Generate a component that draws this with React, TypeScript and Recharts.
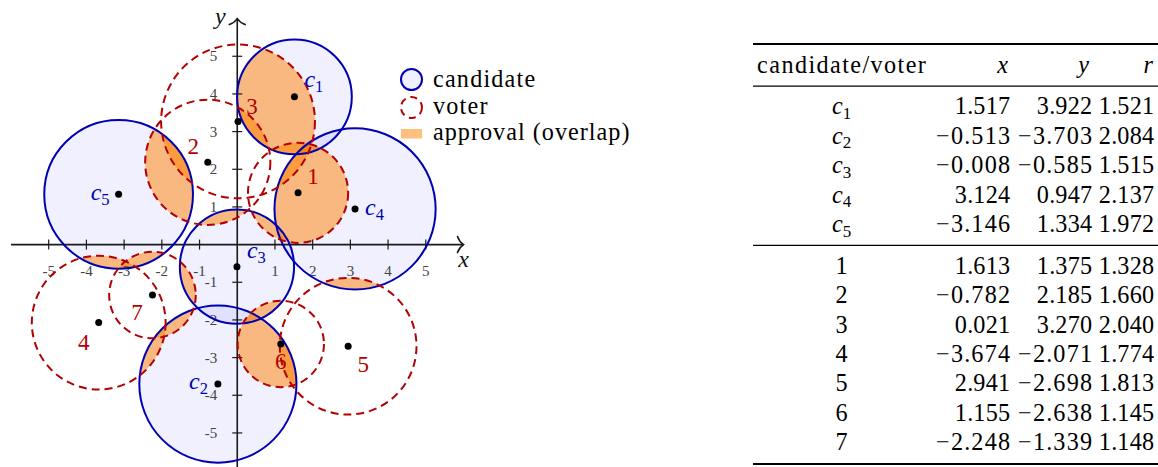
import React from 'react';
import { ScatterChart, Scatter, XAxis, YAxis } from 'recharts';

// ---------------- data ----------------
const candidateNames = ['c1', 'c2', 'c3', 'c4', 'c5'];
const candidateX = [1.517, -0.513, -0.008, 3.124, -3.146];
const candidateY = [3.922, -3.703, -0.585, 0.947, 1.334];
const candidateR = [1.521, 2.084, 1.515, 2.137, 1.972];

const voterNames = ['1', '2', '3', '4', '5', '6', '7'];
const voterX = [1.613, -0.782, 0.021, -3.674, 2.941, 1.155, -2.248];
const voterY = [1.375, 2.185, 3.27, -2.071, -2.698, -2.638, -1.339];
const voterR = [1.328, 1.66, 2.04, 1.774, 1.813, 1.145, 1.148];

const axisRange = [-6, 6];
const axisTicks = [-5, -4, -3, -2, -1, 1, 2, 3, 4, 5];
const legendLabels = ['candidate', 'voter', 'approval (overlap)'];
const tableHeader = ['candidate/voter', 'x', 'y', 'r'];

const candidates = candidateNames.map((name, i) => ({
  name, idx: i + 1, x: candidateX[i], y: candidateY[i], r: candidateR[i],
}));
const voters = voterNames.map((name, i) => ({
  name, x: voterX[i], y: voterY[i], r: voterR[i],
}));
const xAxisLine = [{ x: axisRange[0], y: 0 }, { x: axisRange[1], y: 0 }];
const yAxisLine = [{ x: 0, y: axisRange[0] }, { x: 0, y: axisRange[1] }];
const xTickPoints = axisTicks.map((v) => ({ x: v, y: 0, label: String(v) }));
const yTickPoints = axisTicks.map((v) => ({ x: 0, y: v, label: String(v) }));
const arrowPoints = [
  { x: axisRange[1], y: 0, dir: 'x' },
  { x: 0, y: axisRange[1], dir: 'y' },
];

// ---------------- styles ----------------
const FONT = '"Liberation Serif", "Times New Roman", serif';
const BLUE = '#0000b3';
const RED = '#b30000';
const ORANGE = '#ff8000';
const AXIS = '#1a1a1a';
const TICK_TEXT = '#444';

const SIZE = { w: 700, h: 480 };
const MARGIN = { top: 18.6, right: 236.5, bottom: 9.4, left: 11 };
const PX_PER_UNIT = (SIZE.w - MARGIN.left - MARGIN.right) / (axisRange[1] - axisRange[0]);

const candLabelPlacement: Record<string, { dx: number; dy: number; anchor: 'start' | 'end' }> = {
  c1: { dx: 10, dy: -16, anchor: 'start' },
  c2: { dx: -10, dy: -1, anchor: 'end' },
  c3: { dx: 10, dy: -15, anchor: 'start' },
  c4: { dx: 10, dy: 0, anchor: 'start' },
  c5: { dx: -9, dy: 0, anchor: 'end' },
};
const voterLabelPlacement: Record<string, { dx: number; dy: number }> = {
  '1': { dx: 15, dy: -17 },
  '2': { dx: -14.5, dy: -16 },
  '3': { dx: 14, dy: -15 },
  '4': { dx: -15, dy: 19 },
  '5': { dx: 15, dy: 18 },
  '6': { dx: 0, dy: 17.5 },
  '7': { dx: -15.5, dy: 16.5 },
};

// Computer-Modern-like advance widths (em) used to size text via textLength
const CM: Record<string, number> = {
  a: 0.5, c: 0.444, d: 0.556, e: 0.444, i: 0.278, l: 0.278, n: 0.556, o: 0.5,
  p: 0.556, r: 0.392, t: 0.389, v: 0.528, ' ': 0.333, '(': 0.389, ')': 0.389,
  '/': 0.5, '.': 0.278, '\u2212': 0.778,
};
const cmWidth = (s: string, size: number) =>
  s.split('').reduce((acc, ch) => acc + (CM[ch] ?? 0.5), 0) * size;

const fmt = (n: number) => (n < 0 ? '\u2212' : '') + Math.abs(n).toFixed(3);

// ---------------- shapes ----------------
const Empty = () => <g />;

function CandidateFill(props: any) {
  const { cx, cy, payload } = props;
  const r = payload.r * PX_PER_UNIT;
  return (
    <g>
      <circle cx={cx} cy={cy} r={r} fill="#0000ff" fillOpacity={0.06} stroke="none" />
      {voters.map((v) => (
        <circle
          key={v.name}
          cx={cx}
          cy={cy}
          r={r}
          fill={ORANGE}
          fillOpacity={0.5}
          stroke="none"
          clipPath={`url(#voter-clip-${v.name})`}
        />
      ))}
    </g>
  );
}

function VoterClip(props: any) {
  const { cx, cy, payload } = props;
  return (
    <defs>
      <clipPath id={`voter-clip-${payload.name}`}>
        <circle cx={cx} cy={cy} r={payload.r * PX_PER_UNIT} />
      </clipPath>
    </defs>
  );
}

function CandidateOutline(props: any) {
  const { cx, cy, payload } = props;
  return <circle cx={cx} cy={cy} r={payload.r * PX_PER_UNIT} fill="none" stroke={BLUE} strokeWidth={2} />;
}

function VoterOutline(props: any) {
  const { cx, cy, payload } = props;
  return (
    <circle
      cx={cx}
      cy={cy}
      r={payload.r * PX_PER_UNIT}
      fill="none"
      stroke={RED}
      strokeWidth={2}
      strokeDasharray="8 5"
    />
  );
}

function CandidateMark(props: any) {
  const { cx, cy, payload } = props;
  const p = candLabelPlacement[payload.name];
  return (
    <g>
      <circle cx={cx} cy={cy} r={3.5} fill="#000" />
      <text x={cx + p.dx} y={cy + p.dy + 6} textAnchor={p.anchor} fill={BLUE} fontFamily={FONT} fontSize={24}>
        <tspan fontStyle="italic">c</tspan>
        <tspan fontSize={16.5} dy={5}>{payload.idx}</tspan>
      </text>
    </g>
  );
}

function VoterMark(props: any) {
  const { cx, cy, payload } = props;
  const p = voterLabelPlacement[payload.name];
  return (
    <g>
      <circle cx={cx} cy={cy} r={3.5} fill="#000" />
      <text x={cx + p.dx} y={cy + p.dy + 8} textAnchor="middle" fill={RED} fontFamily={FONT} fontSize={23}>
        {payload.name}
      </text>
    </g>
  );
}

function XTick(props: any) {
  const { cx, cy, payload } = props;
  return (
    <g>
      <line x1={cx} x2={cx} y1={cy - 5} y2={cy + 5} stroke={AXIS} strokeWidth={1.2} />
      <text x={cx} y={cy + 31} textAnchor="middle" fill={TICK_TEXT} fontFamily={FONT} fontSize={15}>
        {payload.label}
      </text>
    </g>
  );
}

function YTick(props: any) {
  const { cx, cy, payload } = props;
  return (
    <g>
      <line x1={cx - 5} x2={cx + 5} y1={cy} y2={cy} stroke={AXIS} strokeWidth={1.2} />
      <text x={cx - 20} y={cy + 5} textAnchor="end" fill={TICK_TEXT} fontFamily={FONT} fontSize={15}>
        {payload.label}
      </text>
    </g>
  );
}

function Arrow(props: any) {
  const { cx, cy, payload } = props;
  const rot = payload.dir === 'x' ? 0 : -90;
  return (
    <g>
      <path
        d="M -6 -8 C -4.5 -3.5 -1.5 -1 0 0 C -1.5 1 -4.5 3.5 -6 8"
        transform={`translate(${cx},${cy}) rotate(${rot})`}
        fill="none"
        stroke={AXIS}
        strokeWidth={1.6}
        strokeLinecap="round"
      />
      {payload.dir === 'x' ? (
        <text x={cx} y={cy + 22} textAnchor="middle" fontFamily={FONT} fontStyle="italic" fontSize={24} fill="#111">
          x
        </text>
      ) : (
        <text x={cx - 17} y={cy + 5} textAnchor="middle" fontFamily={FONT} fontStyle="italic" fontSize={24} fill="#111">
          y
        </text>
      )}
    </g>
  );
}

// ---------------- table / legend overlay ----------------
const T_SIZE = 24.2;
const colRight = [0, 1010, 1092, 1154];
const headerRight = [0, 1008, 1089, 1153];
const col0Center = 841.5;
const headerBaseline = 73;
const ROW_STEP = 29.4;
const candBaseline = candidates.map((_, i) => 114.4 + i * ROW_STEP);
const voterBaseline = voters.map((_, i) => 273.7 + i * ROW_STEP);
const rules = [
  { y: 44, w: 1.9 },
  { y: 86.1, w: 1.2 },
  { y: 245.4, w: 1.2 },
  { y: 464, w: 1.9 },
];

function NumCell({ value, x, y }: { value: number; x: number; y: number }) {
  const s = fmt(value);
  return (
    <text x={x} y={y} textAnchor="end" textLength={cmWidth(s, T_SIZE)} lengthAdjust="spacing">
      {s}
    </text>
  );
}

function Overlay() {
  return (
    <svg
      width={1158}
      height={467}
      style={{ position: 'absolute', left: 0, top: 0, pointerEvents: 'none' }}
    >
      {/* legend */}
      <g fontFamily={FONT} fontSize={T_SIZE} fill="#000">
        <circle cx={411.5} cy={79.5} r={10.5} fill="#0000ff" fillOpacity={0.06} stroke={BLUE} strokeWidth={2} />
        <text x={433} y={86.5} textLength={cmWidth(legendLabels[0], T_SIZE)} lengthAdjust="spacing">
          {legendLabels[0]}
        </text>
        <circle cx={411.5} cy={107.5} r={10.5} fill="none" stroke={RED} strokeWidth={2} strokeDasharray="7 5" />
        <text x={433} y={114} textLength={cmWidth(legendLabels[1], T_SIZE)} lengthAdjust="spacing">
          {legendLabels[1]}
        </text>
        <rect x={401} y={129} width={21} height={9.5} fill={ORANGE} fillOpacity={0.5} />
        <text x={433} y={140} textLength={cmWidth(legendLabels[2], T_SIZE)} lengthAdjust="spacing">
          {legendLabels[2]}
        </text>
      </g>

      {/* table */}
      {rules.map((r, i) => (
        <line key={i} x1={753} x2={1158} y1={r.y} y2={r.y} stroke="#000" strokeWidth={r.w} />
      ))}
      <g fontFamily={FONT} fontSize={T_SIZE} fill="#000">
        <text
          x={col0Center}
          y={headerBaseline}
          textAnchor="middle"
          textLength={cmWidth(tableHeader[0], T_SIZE)}
          lengthAdjust="spacing"
        >
          {tableHeader[0]}
        </text>
        {tableHeader.slice(1).map((h, i) => (
          <text key={h} x={headerRight[i + 1]} y={headerBaseline} textAnchor="end" fontStyle="italic">
            {h}
          </text>
        ))}
        {candidates.map((c, i) => (
          <g key={c.name}>
            <text x={col0Center} y={candBaseline[i]} textAnchor="middle">
              <tspan fontStyle="italic">c</tspan>
              <tspan fontSize={17} dy={4.5}>{c.idx}</tspan>
            </text>
            <NumCell value={c.x} x={colRight[1]} y={candBaseline[i]} />
            <NumCell value={c.y} x={colRight[2]} y={candBaseline[i]} />
            <NumCell value={c.r} x={colRight[3]} y={candBaseline[i]} />
          </g>
        ))}
        {voters.map((v, i) => (
          <g key={v.name}>
            <text x={col0Center} y={voterBaseline[i]} textAnchor="middle">
              {v.name}
            </text>
            <NumCell value={v.x} x={colRight[1]} y={voterBaseline[i]} />
            <NumCell value={v.y} x={colRight[2]} y={voterBaseline[i]} />
            <NumCell value={v.r} x={colRight[3]} y={voterBaseline[i]} />
          </g>
        ))}
      </g>
    </svg>
  );
}

export default function App() {
  return (
    <div
      style={{
        position: 'absolute',
        left: 0,
        top: 0,
        width: 1158,
        height: 467,
        overflow: 'hidden',
        background: '#fff',
      }}
    >
      <ScatterChart width={SIZE.w} height={SIZE.h} margin={MARGIN}>
        <XAxis type="number" dataKey="x" domain={axisRange} hide />
        <YAxis type="number" dataKey="y" domain={axisRange} hide />
        <Scatter name="candidateFill" data={candidates} shape={CandidateFill} isAnimationActive={false} />
        <Scatter name="voterClip" data={voters} shape={VoterClip} isAnimationActive={false} />
        <Scatter
          name="xAxisLine"
          data={xAxisLine}
          shape={Empty}
          line={{ stroke: AXIS, strokeWidth: 1.6 }}
          isAnimationActive={false}
        />
        <Scatter
          name="yAxisLine"
          data={yAxisLine}
          shape={Empty}
          line={{ stroke: AXIS, strokeWidth: 1.6 }}
          isAnimationActive={false}
        />
        <Scatter name="xTicks" data={xTickPoints} shape={XTick} isAnimationActive={false} />
        <Scatter name="yTicks" data={yTickPoints} shape={YTick} isAnimationActive={false} />
        <Scatter name="arrows" data={arrowPoints} shape={Arrow} isAnimationActive={false} />
        <Scatter name="candidateOutline" data={candidates} shape={CandidateOutline} isAnimationActive={false} />
        <Scatter name="voterOutline" data={voters} shape={VoterOutline} isAnimationActive={false} />
        <Scatter name="candidateMarks" data={candidates} shape={CandidateMark} isAnimationActive={false} />
        <Scatter name="voterMarks" data={voters} shape={VoterMarkOrFallback} isAnimationActive={false} />
      </ScatterChart>
      <Overlay />
    </div>
  );
}

function VoterMarkOrFallback(props: any) {
  return <VoterMark {...props} />;
}
